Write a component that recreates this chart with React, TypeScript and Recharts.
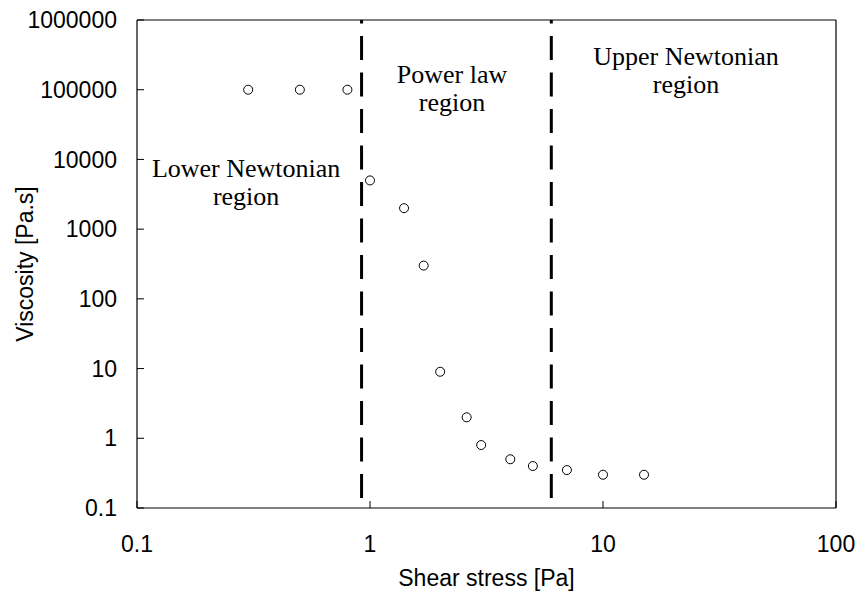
import React from 'react';
import { ScatterChart, Scatter, XAxis, YAxis, ReferenceLine } from 'recharts';

// Measured flow curve: shear stress [Pa] vs viscosity [Pa.s]
const shearStress = [0.3, 0.5, 0.8, 1, 1.4, 1.7, 2, 2.6, 3, 4, 5, 7, 10, 15];
const viscosity = [100000, 100000, 100000, 5000, 2000, 300, 9, 2, 0.8, 0.5, 0.4, 0.35, 0.3, 0.3];

// Axis ticks
const xTicks = [0.1, 1, 10, 100];
const xTickLabels = ['0.1', '1', '10', '100'];
const yTicks = [0.1, 1, 10, 100, 1000, 10000, 100000, 1000000];
const yTickLabels = ['0.1', '1', '10', '100', '1000', '10000', '100000', '1000000'];

// Shear stresses separating the flow regions, drawn across the full viscosity range
const regionBoundaries = [0.92, 6];
const boundarySpan = [0.1, 1000000];

// Region names, anchored (centre / first baseline) in axis units
const regionNames = [
  { lines: ['Lower Newtonian', 'region'], x: 0.294, y: 5600 },
  { lines: ['Power law', 'region'], x: 2.25, y: 124800 },
  { lines: ['Upper Newtonian', 'region'], x: 22.7, y: 226000 },
];

const SANS = '"Liberation Sans", Arial, sans-serif';
const SERIF = '"Liberation Serif", "Times New Roman", serif';

const points = shearStress.map((x, i) => ({ x, y: viscosity[i] }));

const OpenCircle = (props: any) => {
  const { cx, cy } = props;
  if (cx == null || cy == null) return <g />;
  return <circle cx={cx} cy={cy} r={4.5} fill="#fff" stroke="#000" strokeWidth={1} />;
};

const Nothing = () => <g />;

const makeRegionText = (lines: string[]) => (props: any) => {
  const { cx, cy } = props;
  if (cx == null || cy == null) return <g />;
  return (
    <text x={cx} y={cy} textAnchor="middle" fontFamily={SERIF} fontSize={26} fill="#000">
      {lines.map((line, i) => (
        <tspan key={i} x={cx} dy={i === 0 ? 0 : 28}>
          {line}
        </tspan>
      ))}
    </text>
  );
};

const XTitle = (props: any) => {
  const vb = props.viewBox || {};
  return (
    <text
      x={vb.x + vb.width / 2}
      y={vb.y + vb.height - 8}
      textAnchor="middle"
      fontFamily={SANS}
      fontSize={23}
      fill="#000"
    >
      Shear stress [Pa]
    </text>
  );
};

const YTitle = (props: any) => {
  const vb = props.viewBox || {};
  const cx = vb.x + 33;
  const cy = vb.y + vb.height / 2;
  return (
    <text
      x={cx}
      y={cy}
      transform={`rotate(-90 ${cx} ${cy})`}
      textAnchor="middle"
      fontFamily={SANS}
      fontSize={23}
      fill="#000"
    >
      Viscosity [Pa.s]
    </text>
  );
};

export default function App() {
  return (
    <div style={{ position: 'absolute', left: 0, top: 0, width: 858, height: 594, background: '#fff' }}>
      <ScatterChart width={858} height={594} margin={{ top: 20, right: 22, bottom: 0, left: 0 }}>
        <XAxis
          type="number"
          dataKey="x"
          scale="log"
          domain={[0.1, 100]}
          ticks={xTicks}
          interval={0}
          allowDataOverflow
          height={86}
          tickSize={-7}
          tickMargin={35}
          tickFormatter={(v: number) => xTickLabels[xTicks.indexOf(v)] ?? String(v)}
          tick={{ fill: '#000', fontSize: 23, fontFamily: SANS }}
          axisLine={{ stroke: '#000', strokeWidth: 1.2 }}
          tickLine={{ stroke: '#000', strokeWidth: 1 }}
          label={<XTitle />}
        />
        <YAxis
          type="number"
          dataKey="y"
          scale="log"
          domain={[0.1, 1000000]}
          ticks={yTicks}
          interval={0}
          allowDataOverflow
          width={137}
          tickSize={-7}
          tickMargin={27}
          tickFormatter={(v: number) => yTickLabels[yTicks.indexOf(v)] ?? String(v)}
          tick={{ fill: '#000', fontSize: 23, fontFamily: SANS }}
          axisLine={{ stroke: '#000', strokeWidth: 1.2 }}
          tickLine={{ stroke: '#000', strokeWidth: 1 }}
          label={<YTitle />}
        />
        <ReferenceLine y={1000000} stroke="#000" strokeWidth={1.2} />
        <ReferenceLine x={100} stroke="#000" strokeWidth={1.2} />
        {regionBoundaries.map((b, i) => (
          <Scatter
            key={`boundary-${i}`}
            data={boundarySpan.map((y) => ({ x: b, y }))}
            line={{ stroke: '#000', strokeWidth: 3, strokeDasharray: '24 12.5', strokeDashoffset: 26.5 }}
            lineType="joint"
            shape={Nothing}
            isAnimationActive={false}
          />
        ))}
        <Scatter data={points} shape={OpenCircle} isAnimationActive={false} />
        {regionNames.map((r, i) => (
          <Scatter
            key={`name-${i}`}
            data={[{ x: r.x, y: r.y }]}
            shape={makeRegionText(r.lines)}
            isAnimationActive={false}
          />
        ))}
      </ScatterChart>
    </div>
  );
}
